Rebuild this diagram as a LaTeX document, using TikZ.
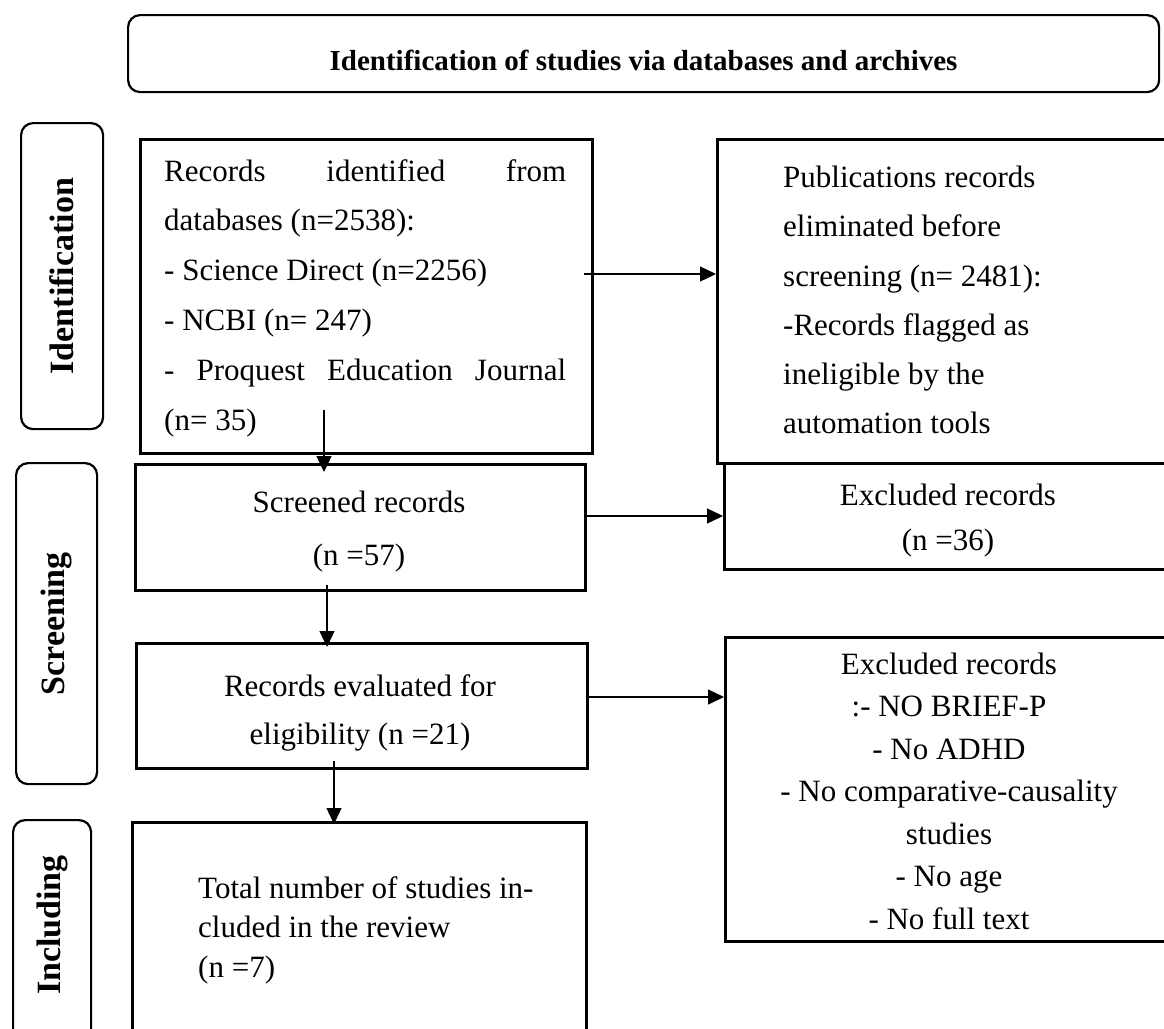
\documentclass[tikz,border=0pt]{standalone}
\usepackage{fontspec}
\setmainfont{Liberation Serif}
\usetikzlibrary{arrows.meta,calc}
\begin{document}
\begin{tikzpicture}[x=1pt,y=-1pt,
  box/.style={draw,line width=3pt,inner sep=0pt,anchor=north west},
  side/.style={draw,line width=2.2pt,rounded corners=12pt,inner sep=0pt,anchor=north west},
  arr/.style={line width=1.3pt,-{Triangle[length=16pt,width=15pt]}},
  sidelbl/.style={inner sep=0pt,rotate=90,font=\bfseries\fontsize{34}{38}\selectfont},
  txt/.style={inner sep=0pt,font=\fontsize{31}{49}\selectfont}]
\useasboundingbox (0,0) rectangle (1164,1028);
\clip (0,0) rectangle (1164,1028);

% banner
\node[side, minimum width=1031pt, minimum height=77pt] (banner) at (127,14) {};
\node[inner sep=0pt, font=\bfseries\fontsize{29}{33}\selectfont] (title) at ($(banner.center)+(0,7)$) {Identification of studies via databases and archives};

% side boxes
\node[side, minimum width=82pt, minimum height=306pt] (sid) at (20,122) {};
\node[sidelbl] (lid) at (sid.center) {Identification};
\node[side, minimum width=81pt, minimum height=321pt] (sscr) at (15,462) {};
\node[sidelbl] (lscr) at (sscr.center) {Screening};
\node[side, minimum width=78pt, minimum height=260pt] (sinc) at (12,819) {};
\node[sidelbl] (linc) at ($(sinc.north)+(0,106)$) {Including};

% main boxes
\node[box, minimum width=452pt, minimum height=314pt] (b1) at (139,138) {};
\node[box, minimum width=500pt, minimum height=324pt] (b2) at (716,138) {};
\node[box, minimum width=450pt, minimum height=126pt] (b3) at (134,463) {};
\node[box, minimum width=451pt, minimum height=125pt] (b4) at (135,642) {};
\node[box, minimum width=500pt, minimum height=106pt] (b5) at (723,462) {};
\node[box, minimum width=450pt, minimum height=304pt] (b6) at (724,636) {};
\node[box, minimum width=454pt, minimum height=260pt] (b7) at (131,821) {};

% texts
\node[txt, anchor=west, align=left, font=\fontsize{31}{49.8}\selectfont] (t1) at (164,298)
  {\makebox[402pt][s]{Records identified from}\\databases (n=2538):\\- Science Direct (n=2256)\\- NCBI (n= 247)\\\makebox[402pt][s]{- Proquest Education Journal}\\(n= 35)};
\node[txt, anchor=west, align=left, font=\fontsize{31}{49.2}\selectfont] (t2) at (783,300)
  {Publications records\\eliminated before\\screening (n= 2481):\\-Records flagged as\\ineligible by the\\automation tools};
\node[txt, align=center, font=\fontsize{31}{53}\selectfont] (t3) at (359,532) {Screened records\\(n =57)};
\node[txt, align=center, font=\fontsize{31}{48}\selectfont] (t4) at (360,713) {Records evaluated for\\eligibility (n =21)};
\node[txt, align=center, font=\fontsize{31}{45}\selectfont] (t5) at (948,521) {Excluded records\\(n =36)};
\node[txt, align=center, font=\fontsize{31}{42.5}\selectfont] (t6) at (949,791)
  {Excluded records\\:- NO BRIEF-P\\- No ADHD\\- No comparative-causality\\studies\\- No age\\- No full text};
\node[txt, anchor=west, align=left, font=\fontsize{31}{39.5}\selectfont] (t7) at (198,930)
  {Total number of studies in-\\cluded in the review\\(n =7)};

% connectors
\coordinate (h1) at (0,274);
\coordinate (h2) at (0,516);
\coordinate (h3) at (0,697);
\draw[arr] ($(b1.east |- h1)+(-10,0)$) -- (b2.west |- h1);
\draw[arr] (b3.east |- h2) -- (b5.west |- h2);
\draw[arr] (b4.east |- h3) -- (b6.west |- h3);
\draw[arr] ($(b1.south west)+(185,-45)$) -- ($(b3.north west)+(190,9)$);
\draw[arr] ($(b3.south west)+(193,-7)$) -- ($(b4.north west)+(192,5)$);
\draw[arr] ($(b4.south west)+(199,-9)$) -- ($(b7.north west)+(203,3)$);
\end{tikzpicture}
\end{document}
